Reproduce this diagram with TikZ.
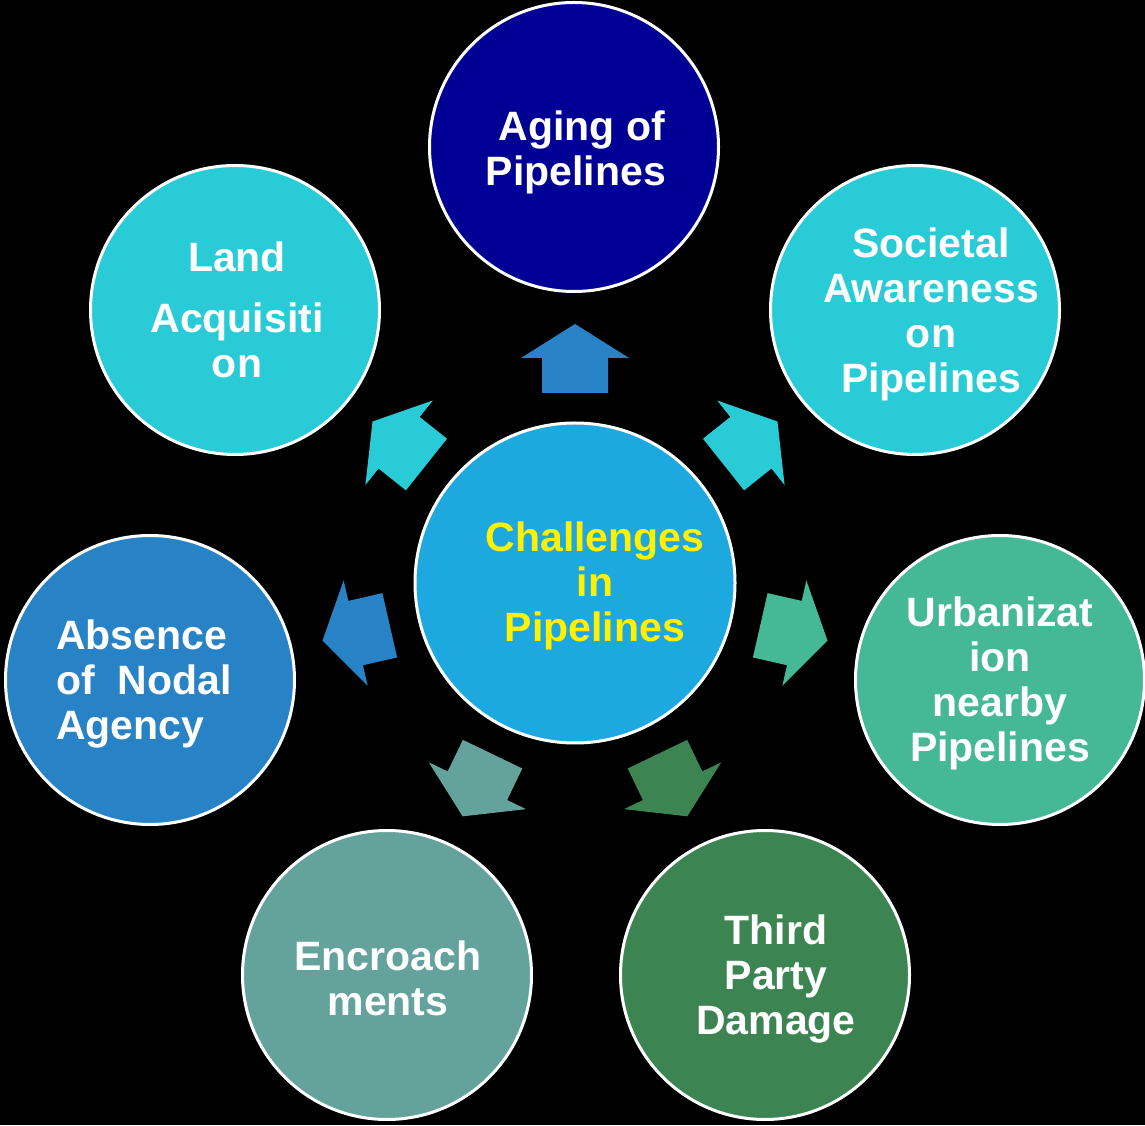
\documentclass[tikz,border=0pt]{standalone}
\usepackage{fontspec}
\setmainfont{Liberation Sans}
\usetikzlibrary{calc}
\definecolor{hubc}{RGB}{30,168,224}
\definecolor{agec}{RGB}{0,0,148}
\definecolor{cyanc}{RGB}{41,204,214}
\definecolor{urbc}{RGB}{69,185,150}
\definecolor{thirdc}{RGB}{60,133,82}
\definecolor{encc}{RGB}{99,163,155}
\definecolor{absc}{RGB}{40,130,198}
\begin{document}
\begin{tikzpicture}[x=1pt,y=1pt,
  circ/.style={circle, draw=white, line width=3pt, minimum size=289pt, inner sep=0pt},
  lbl/.style={text=white, font=\bfseries\fontsize{41}{45}\selectfont, align=center, inner sep=0pt}]
\fill[black] (0,0) rectangle (1145,1125);
\useasboundingbox (0,0) rectangle (1145,1125);
% hub
\node[circ, fill=hubc, minimum size=320pt] (hub) at (575,542) {};
\node[lbl, text=yellow] (hub-t) at (595,539) {Challenges\\in\\Pipelines};
% outer circles
\node[circ, fill=agec]   (age)   at (574,978) {};
\node[circ, fill=cyanc]  (soc)   at (915,815) {};
\node[circ, fill=urbc]   (urb)   at (1000,445) {};
\node[circ, fill=thirdc] (third) at (765,150) {};
\node[circ, fill=encc]   (enc)   at (387,150) {};
\node[circ, fill=absc]   (abs)   at (150,445) {};
\node[circ, fill=cyanc]  (land)  at (235,815) {};
% texts
\node[lbl] (age-t)   at (576,973)  {\ Aging of\\Pipelines};
\node[lbl] (soc-t)   at (931,811)  {Societal\\Awareness\\on\\Pipelines};
\node[lbl] (urb-t)   at (1000,442) {Urbanizat\\ion\\nearby\\Pipelines};
\node[lbl] (third-t) at (776,146)  {Third\\Party\\Damage};
\node[lbl] (enc-t)   at (388,147)  {Encroach\\ments};
\node[lbl, align=left] (abs-t) at (144,441) {Absence\\of\ \ Nodal\\Agency};
\node[lbl] (land-t)  at (237,815)  {Land\\[16pt]Acquisiti\\on};
% block arrows from hub towards each circle
\foreach \ang/\col in {90/absc, 38.57/cyanc, -12.86/urbc, -64.29/thirdc, -115.71/encc, -167.14/absc, 141.43/cyanc}
  \fill[\col, shift={(hub.center)}, rotate=\ang]
    (190,-33) -- (225,-33) -- (225,-54) -- (259,0) -- (225,54) -- (225,33) -- (190,33) -- cycle;
\end{tikzpicture}
\end{document}
